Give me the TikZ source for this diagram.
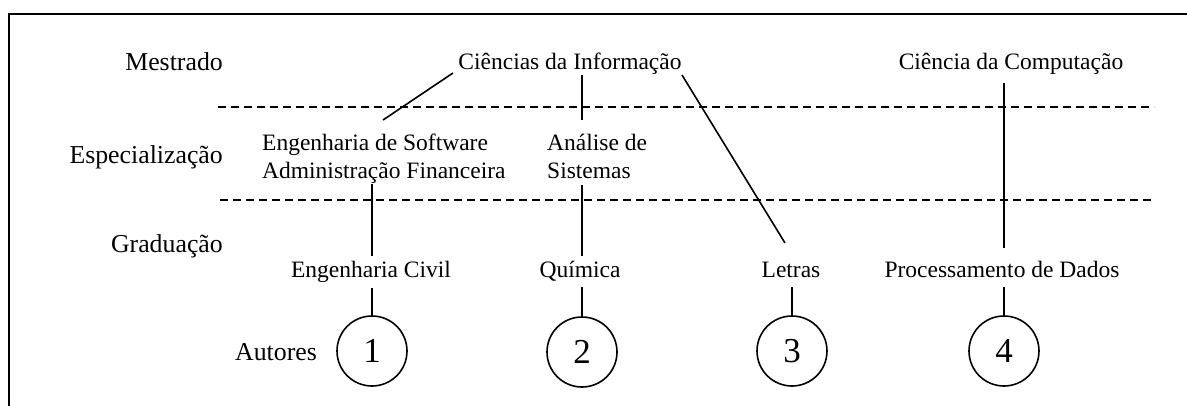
\documentclass[tikz,border=0pt]{standalone}
\usepackage{fontspec}
\setmainfont{Liberation Serif}
\begin{document}
\begin{tikzpicture}[x=1pt,y=-1pt,
  every node/.style={font=\fontsize{23.5}{28}\selectfont, inner sep=0pt},
  lbl/.style={anchor=base},
  lvl/.style={anchor=base east, font=\fontsize{25.8}{30}\selectfont},
  blk/.style={anchor=base west, align=left},
  conn/.style={line width=1.6pt},
  sep/.style={line width=1.6pt, dash pattern=on 8pt off 5pt},
  frame/.style={line width=2.5pt},
  author/.style={circle, draw, line width=1.6pt, minimum size=70pt, font=\fontsize{35}{40}\selectfont}]
\useasboundingbox (0,0) rectangle (1187,405);
% frame (top and left edges)
\coordinate (ftl) at (9,14);
\coordinate (ftr) at (1190,14);
\coordinate (fbl) at (9,408);
\draw[frame] (ftr) -- (ftl) -- (fbl);
% separators
\coordinate (s1a) at (218,107); \coordinate (s1b) at (1154,107);
\coordinate (s2a) at (220,200); \coordinate (s2b) at (1154,200);
\draw[sep] (s1a) -- (s1b);
\draw[sep] (s2a) -- (s2b);
% level labels
\node[lvl] (mest) at (223,70) {Mestrado};
\node[lvl] (espec) at (223,163) {Especialização};
\node[lvl] (grad) at (223,252) {Graduação};
\node[lbl, font=\fontsize{25.8}{30}\selectfont] (aut) at (276,360) {Autores};
% course nodes
\node[lbl] (ci) at (570,69) {Ciências da Informação};
\node[lbl] (cc) at (1011,69) {Ciência da Computação};
\node[blk] (es) at (262,178) {Engenharia de Software\\Administração Financeira};
\node[blk] (as) at (547,178) {Análise de\\Sistemas};
\node[lbl] (civ) at (371,277) {Engenharia Civil};
\node[lbl] (qui) at (580,277) {Química};
\node[lbl] (let) at (791,277) {Letras};
\node[lbl] (pd) at (1002,277) {Processamento de Dados};
% authors
\node[author] (a1) at (372,351) {1};
\node[author] (a2) at (582,352) {2};
\node[author] (a3) at (792,351) {3};
\node[author] (a4) at (1004,351) {4};
% connector end points
\coordinate (ci1) at (453,73); \coordinate (es1) at (383,120);
\coordinate (ci2) at (582,75); \coordinate (as1) at (582,120);
\coordinate (ci3) at (682,75); \coordinate (let1) at (785,243);
\coordinate (cc1) at (1004,83); \coordinate (pd1) at (1004,248);
\coordinate (es2) at (372,184); \coordinate (civ1) at (372,256);
\coordinate (as2) at (582,185); \coordinate (qui1) at (582,256);
\coordinate (civ2) at (372,288); \coordinate (qui2) at (582,287);
\coordinate (let2) at (792,287); \coordinate (pd2) at (1004,287);
\draw[conn] (ci1) -- (es1);
\draw[conn] (ci2) -- (as1);
\draw[conn] (ci3) -- (let1);
\draw[conn] (cc1) -- (pd1);
\draw[conn] (es2) -- (civ1);
\draw[conn] (as2) -- (qui1);
\draw[conn] (civ2) -- (a1.north);
\draw[conn] (qui2) -- (a2.north);
\draw[conn] (let2) -- (a3.north);
\draw[conn] (pd2) -- (a4.north);
\end{tikzpicture}
\end{document}
